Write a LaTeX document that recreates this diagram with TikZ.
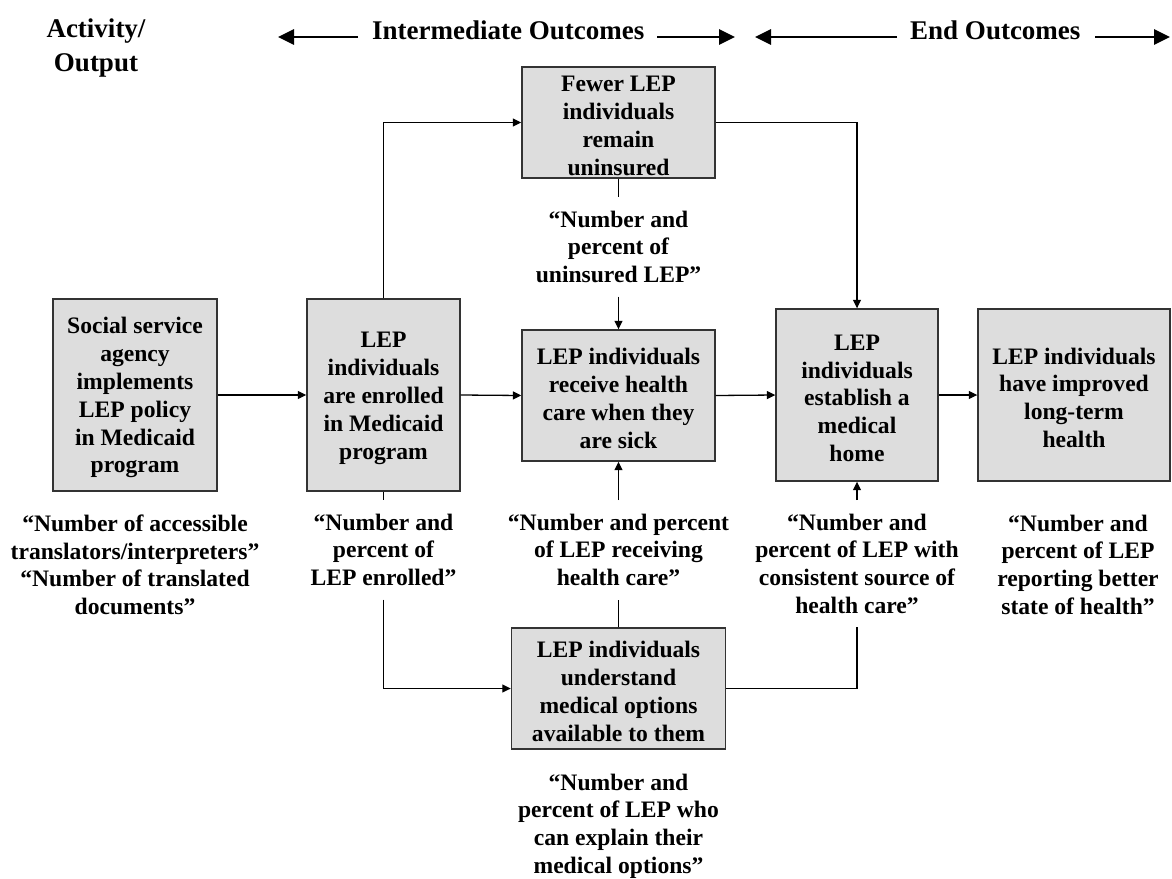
\documentclass[tikz,border=0pt]{standalone}
\usepackage{fontspec}
\setmainfont{Liberation Serif}
\usetikzlibrary{arrows.meta}
\definecolor{boxfill}{RGB}{221,221,221}
\definecolor{boxdraw}{RGB}{51,51,51}
\newcommand{\topstrut}{\rule{0pt}{22pt}}
\begin{document}
\begin{tikzpicture}[x=1pt,y=-1pt,
  txt/.style={font=\bfseries\fontsize{23.6}{27.8}\selectfont},
  box/.style={txt, draw=boxdraw, fill=boxfill, line width=1.4pt, inner sep=0pt, align=center},
  lab/.style={txt, inner xsep=2pt, inner ysep=13.5pt, align=center, anchor=north},
  conn/.style={line width=1.3pt, draw=black},
  arr/.style={conn, -{Triangle[length=8.5pt,width=8pt]}},
  hdr/.style={font=\bfseries\fontsize{27}{34}\selectfont, inner sep=0pt},
  hdrarrow/.style={line width=2.7pt, -{Triangle[length=16pt,width=15pt]}}
]
\useasboundingbox (0,0) rectangle (1172,878);

% header
\node[hdr, align=center, anchor=north] (act) at (96,19) {Activity/\\Output};
\node[hdr, anchor=base west] (inter) at (372,39) {Intermediate Outcomes};
\node[hdr, anchor=base west] (endo) at (910,39) {End Outcomes};
\coordinate (h1a) at (358,37); \coordinate (h1b) at (278,37);
\coordinate (h2a) at (657,37); \coordinate (h2b) at (735,37);
\coordinate (h3a) at (897,37); \coordinate (h3b) at (755,37);
\coordinate (h4a) at (1095,37); \coordinate (h4b) at (1170,37);
\draw[hdrarrow] (h1a) -- (h1b);
\draw[hdrarrow] (h2a) -- (h2b);
\draw[hdrarrow] (h3a) -- (h3b);
\draw[hdrarrow] (h4a) -- (h4b);

% boxes
\node[box, minimum width=164pt, minimum height=192pt] (b1) at (135,395) {\topstrut Social service\\agency\\implements\\LEP policy\\in Medicaid\\program};
\node[box, minimum width=153pt, minimum height=192pt] (b2) at (383.5,395) {\topstrut LEP\\individuals\\are enrolled\\in Medicaid\\program};
\node[box, minimum width=193pt, minimum height=131pt] (b3) at (618.5,395.5) {\topstrut LEP individuals\\receive health\\care when they\\are sick};
\node[box, minimum width=162pt, minimum height=172pt] (b4) at (857,395) {\topstrut LEP\\individuals\\establish a\\medical\\home};
\node[box, minimum width=192pt, minimum height=172pt] (b5) at (1074,395) {\topstrut LEP individuals\\have improved\\long-term\\health};
\node[box, minimum width=193pt, minimum height=111pt] (top) at (618.5,122.5) {\topstrut Fewer LEP\\individuals\\remain\\uninsured};
\node[box, minimum width=214pt, minimum height=121pt] (bot) at (618.5,688.5) {\topstrut LEP individuals\\understand\\medical options\\available to them};

% labels
\node[lab] (l1) at (135,501) {“Number of accessible\\translators/interpreters”\\“Number of translated\\documents”};
\node[lab] (l2) at (383.5,500) {“Number and\\percent of\\LEP enrolled”};
\node[lab] (l3) at (618.5,500) {“Number and percent\\of LEP receiving\\health care”};
\node[lab] (l4) at (857,500) {“Number and\\percent of LEP with\\consistent source of\\health care”};
\node[lab] (l5) at (1078,501) {“Number and\\percent of LEP\\reporting better\\state of health”};
\node[lab] (lu) at (618.5,197) {“Number and\\percent of\\uninsured LEP”};
\node[lab] (lb) at (618.5,760) {“Number and\\percent of LEP who\\can explain their\\medical options”};

% connectors
\draw[arr] (b1.east) -- (b2.west);
\draw[arr] (b2.east) -- (b3.west);
\draw[arr] (b3.east) -- (b4.west);
\draw[arr] (b4.east) -- (b5.west);
\draw[arr] (b2.north) |- (top.west);
\draw[arr] (top.east) -| (b4.north);
\draw[conn] (top.south) -- (lu.north);
\draw[arr] (lu.south) -- (b3.north);
\draw[conn] (b2.south) -- (l2.north);
\draw[arr] (l2.south) |- (bot.west);
\draw[conn] (bot.north) -- (l3.south);
\draw[arr] (l3.north) -- (b3.south);
\draw[conn] (bot.east) -| (l4.south);
\draw[arr] (l4.north) -- (b4.south);
\end{tikzpicture}
\end{document}
